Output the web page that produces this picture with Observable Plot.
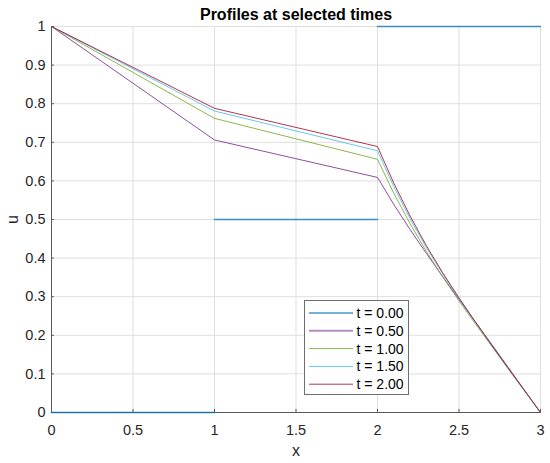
<!DOCTYPE html>
<html>
<head>
<meta charset="utf-8">
<script src="https://cdn.jsdelivr.net/npm/d3@7"></script>
<script src="https://cdn.jsdelivr.net/npm/@observablehq/plot@0.6"></script>
<style>
  html, body { margin: 0; padding: 0; background: #fff; }
  #wrap { position: relative; width: 550px; height: 463px; font-family: "Liberation Sans", Arial, sans-serif; }
  #legend { position: absolute; left: 304px; top: 300px; }
</style>
</head>
<body>
<div id="wrap"></div>
<script>
// ---- data ----
const titleText = "Profiles at selected times";
const xLabel = "x";
const yLabel = "u";
const seriesLabels = ["t = 0.00", "t = 0.50", "t = 1.00", "t = 1.50", "t = 2.00"];
const seriesColors = ["#0072BD", "#7E2F8E", "#77AC30", "#4DBEEE", "#A2142F"];

// initial profile (piecewise constant, drawn as separate segments)
const x0 = [0, 1, 1, 2, 2, 3];
const u0 = [0, 0, 0.5, 0.5, 1, 1];
const seg0 = [0, 0, 1, 1, 2, 2];

// later profiles
const xs = [0, 1, 2, 2.1, 2.2, 2.3, 2.4, 2.5, 2.6, 2.7, 2.8, 2.9, 3];
const u050 = [1, 0.706, 0.609, 0.539, 0.474, 0.412, 0.352, 0.293, 0.235, 0.177, 0.118, 0.059, 0];
const u100 = [1, 0.762, 0.656, 0.568, 0.489, 0.417, 0.351, 0.289, 0.230, 0.172, 0.114, 0.057, 0];
const u150 = [1, 0.781, 0.678, 0.585, 0.502, 0.427, 0.359, 0.295, 0.234, 0.175, 0.116, 0.058, 0];
const u200 = [1, 0.788, 0.689, 0.594, 0.509, 0.432, 0.362, 0.297, 0.235, 0.175, 0.116, 0.058, 0];

const xTicks = [0, 0.5, 1, 1.5, 2, 2.5, 3];
const yTicks = [0, 0.1, 0.2, 0.3, 0.4, 0.5, 0.6, 0.7, 0.8, 0.9, 1];

// ---- build tables ----
const rows0 = x0.map((x, i) => ({seg: seg0[i], x, u: u0[i]}));
const later = [u050, u100, u150, u200].map(arr => arr.map((u, i) => ({x: xs[i], u})));

const axisColor = "#5a5a5a";
const gridColor = "#dfdfdf";
const fontFam = "'Liberation Sans', Arial, sans-serif";

const chart = Plot.plot({
  width: 550,
  height: 463,
  marginLeft: 51,
  marginRight: 10,
  marginTop: 26,
  marginBottom: 51,
  style: {fontFamily: fontFam, fontSize: "14.5px", color: "#262626", background: "#fff"},
  x: {domain: [0, 3], ticks: xTicks},
  y: {domain: [0, 1], ticks: yTicks},
  marks: [
    Plot.gridX(xTicks, {stroke: gridColor, strokeOpacity: 1}),
    Plot.gridY(yTicks, {stroke: gridColor, strokeOpacity: 1}),
    Plot.ruleX([0], {stroke: axisColor}),
    Plot.ruleY([0], {stroke: axisColor}),
    Plot.ruleX(xTicks, {y1: 0, y2: 0.008, stroke: axisColor}),
    Plot.ruleY(yTicks, {x1: 0, x2: 0.018, stroke: axisColor}),
    Plot.axisX(xTicks, {tickSize: 0, tickPadding: 12, fontSize: 14.5, fill: "#262626",
      tickFormat: d => String(d), label: xLabel, labelAnchor: "center", labelArrow: "none", labelOffset: 43}),
    Plot.axisY(yTicks, {tickSize: 0, tickPadding: 6, fontSize: 14.5, fill: "#262626",
      tickFormat: d => String(d), label: yLabel, labelAnchor: "center", labelArrow: "none", labelOffset: 45}),
    Plot.line(rows0, {x: "x", y: "u", z: "seg", stroke: seriesColors[0], strokeWidth: 1.6, strokeOpacity: 0.75}),
    ...later.map((data, k) => Plot.line(data, {x: "x", y: "u", stroke: seriesColors[k + 1], strokeWidth: 1, strokeOpacity: 0.85})),
    Plot.text([titleText], {frameAnchor: "top", lineAnchor: "middle", dy: -12, text: d => d, fontWeight: "bold", fontSize: 16, fill: "#000"})
  ]
});
document.getElementById("wrap").appendChild(chart);

// axis label font size
chart.querySelectorAll("g[aria-label='x-axis label'] text, g[aria-label='y-axis label'] text").forEach(t => t.setAttribute("font-size", 16));

// ---- legend ----
const ns = "http://www.w3.org/2000/svg";
const lg = document.createElementNS(ns, "svg");
lg.setAttribute("id", "legend");
lg.setAttribute("width", 106);
lg.setAttribute("height", 96);
const box = document.createElementNS(ns, "rect");
box.setAttribute("x", 0.5); box.setAttribute("y", 0.5);
box.setAttribute("width", 104); box.setAttribute("height", 94);
box.setAttribute("fill", "#fff"); box.setAttribute("stroke", "#6e6e6e");
lg.appendChild(box);
seriesLabels.forEach((lab, i) => {
  const y = 13 + i * 17.8;
  const ln = document.createElementNS(ns, "line");
  ln.setAttribute("x1", 5); ln.setAttribute("x2", 49);
  ln.setAttribute("y1", y); ln.setAttribute("y2", y);
  ln.setAttribute("stroke", seriesColors[i]);
  ln.setAttribute("stroke-width", i < 2 ? 2 : 1);
  ln.setAttribute("stroke-opacity", i < 2 ? 0.55 : 0.85);
  lg.appendChild(ln);
  const tx = document.createElementNS(ns, "text");
  tx.setAttribute("x", 52.5); tx.setAttribute("y", y);
  tx.setAttribute("dy", "0.35em");
  tx.setAttribute("font-size", 14);
  tx.setAttribute("fill", "#000");
  tx.setAttribute("font-family", fontFam);
  tx.textContent = lab;
  lg.appendChild(tx);
});
document.getElementById("wrap").appendChild(lg);
</script>
</body>
</html>
